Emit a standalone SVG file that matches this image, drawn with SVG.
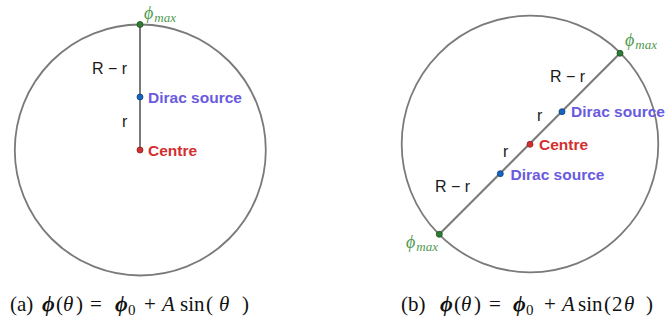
<svg xmlns="http://www.w3.org/2000/svg" width="668" height="320" viewBox="0 0 668 320">
<style>
.circ{fill:none;stroke:#7a7a7a;stroke-width:1.8}
.seg{stroke:#7a7a7a;stroke-width:2;fill:none}
.lbl{font-family:"Liberation Sans",Arial,sans-serif;font-size:16px;fill:#1a1a1a}
.dir{font-family:"Liberation Sans",Arial,sans-serif;font-size:15.5px;font-weight:bold;fill:#6a5ae0}
.cen{font-family:"Liberation Sans",Arial,sans-serif;font-size:15.5px;font-weight:bold;fill:#d32f2f}
.phi{font-family:"Liberation Serif","Times New Roman",serif;font-style:italic;font-size:18px;fill:#4f9a4f}
.sub{font-size:13px}
.dg{fill:#2e7d32;stroke:#1b4d1e;stroke-width:0.8}
.db{fill:#1565c0;stroke:#0d3c75;stroke-width:0.8}
.dr{fill:#d32f2f;stroke:#8a1c1c;stroke-width:0.8}
.cap{font-family:"Liberation Serif","Times New Roman",serif;font-size:21px;fill:#111}
.bi{font-style:italic;font-weight:bold;font-size:22px}
.it{font-style:italic}
.s0{font-size:15px}
</style>
<g id="panel-a">
<circle id="a-circle" class="circ" cx="140.3" cy="150" r="125.5"/>
<g id="a-connectors"><line class="seg" x1="140" y1="24.5" x2="140" y2="150"/></g>
<g id="a-phimax"><circle class="dg" cx="140" cy="24.5" r="3"/><text class="phi" x="144" y="19">ϕ<tspan class="sub" dy="3" dx="1">max</tspan></text></g>
<g id="a-dirac"><circle class="db" cx="140" cy="97" r="3"/><text class="dir" x="148" y="103">Dirac source</text></g>
<g id="a-centre"><circle class="dr" cx="140" cy="150" r="3"/><text class="cen" x="148" y="155.5">Centre</text></g>
<text class="lbl" x="92" y="74">R − r</text>
<text class="lbl" x="122" y="127">r</text>
</g>
<g id="panel-b">
<circle id="b-circle" class="circ" cx="530" cy="144" r="128.3"/>
<g id="b-connectors"><line class="seg" x1="620" y1="53.3" x2="439.3" y2="234.3"/></g>
<g id="b-phimax1"><circle class="dg" cx="620" cy="53.3" r="3"/><text class="phi" x="625" y="46">ϕ<tspan class="sub" dy="3" dx="1">max</tspan></text></g>
<g id="b-phimax2"><circle class="dg" cx="439.3" cy="234.3" r="3"/><text class="phi" x="406" y="248">ϕ<tspan class="sub" dy="3" dx="1">max</tspan></text></g>
<g id="b-dirac1"><circle class="db" cx="562" cy="111.7" r="3"/><text class="dir" x="571" y="117">Dirac source</text></g>
<g id="b-centre"><circle class="dr" cx="530" cy="144.3" r="3"/><text class="cen" x="539" y="149.5">Centre</text></g>
<g id="b-dirac2"><circle class="db" cx="500.3" cy="173.7" r="3"/><text class="dir" x="510.5" y="179.5">Dirac source</text></g>
<text class="lbl" x="550" y="81.5">R − r</text>
<text class="lbl" x="537" y="121">r</text>
<text class="lbl" x="503" y="157">r</text>
<text class="lbl" x="435" y="192">R − r</text>
</g>
<g id="captions">
<text class="cap" y="311"><tspan x="10">(a)</tspan><tspan x="42" class="bi">ϕ</tspan><tspan x="56">(</tspan><tspan x="63" class="it">θ</tspan><tspan x="76">)</tspan><tspan x="90">=</tspan><tspan x="115" class="bi">ϕ</tspan><tspan x="128" dy="4" class="s0">0</tspan><tspan x="144" dy="-4">+</tspan><tspan x="162" class="it">A</tspan><tspan x="180">sin</tspan><tspan x="206">(</tspan><tspan x="219" class="it">θ</tspan><tspan x="242">)</tspan></text>
<text class="cap" y="311"><tspan x="401">(b)</tspan><tspan x="440" class="bi">ϕ</tspan><tspan x="454">(</tspan><tspan x="461" class="it">θ</tspan><tspan x="474">)</tspan><tspan x="489">=</tspan><tspan x="513" class="bi">ϕ</tspan><tspan x="526" dy="4" class="s0">0</tspan><tspan x="544" dy="-4">+</tspan><tspan x="562" class="it">A</tspan><tspan x="578">sin</tspan><tspan x="604">(</tspan><tspan x="612">2</tspan><tspan x="624" class="it">θ</tspan><tspan x="646">)</tspan></text>
</g>
</svg>
